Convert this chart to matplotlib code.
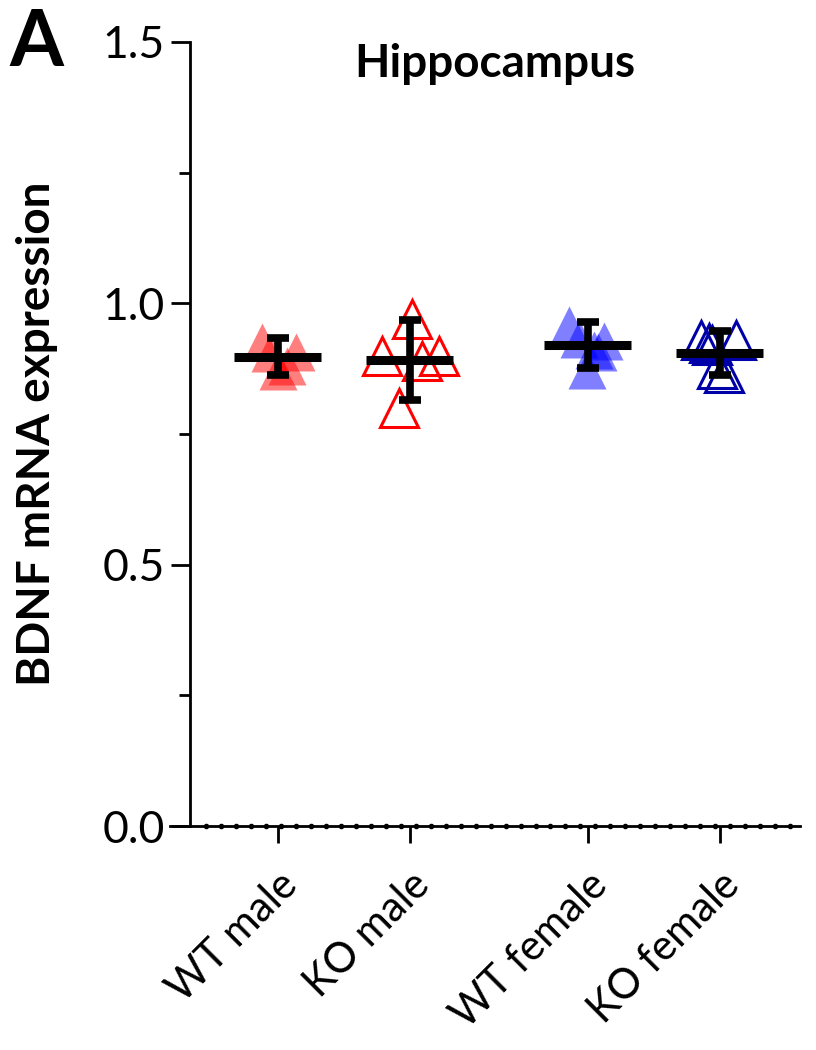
import numpy as np
import matplotlib.pyplot as plt

plt.rcParams['font.family'] = ['Lato', 'DejaVu Sans']

groups = ['WT male', 'KO male', 'WT female', 'KO female']
xpos = [1.0, 2.0, 3.35, 4.35]

# individual points (x offset, value)
pts_x = [
    [-0.12, 0.14, -0.06, 0.0, 0.07],
    [0.02, -0.21, 0.09, 0.22, -0.08],
    [-0.14, 0.12, 0.08, -0.07, -0.01, 0.05],
    [-0.14, -0.06, 0.12, 0.03, -0.02, -0.08],
]
pts_y = [
    [0.927, 0.907, 0.905, 0.870, 0.880],
    [0.971, 0.900, 0.890, 0.900, 0.800],
    [0.958, 0.928, 0.907, 0.932, 0.872, 0.911],
    [0.930, 0.920, 0.930, 0.867, 0.874, 0.924],
]
means = [0.898, 0.892, 0.921, 0.905]
errs = [0.035, 0.076, 0.044, 0.043]

face = [(1, 0, 0, 0.5), 'none', (0, 0, 1, 0.5), 'none']
edge = ['none', '#FF0000', 'none', '#0000A8']

fig = plt.figure(figsize=(8.16, 10.5), dpi=100)
ax = fig.add_axes([0.2328, 0.2133, 0.7472, 0.7467])

for i in range(4):
    xs = [xpos[i] + dx for dx in pts_x[i]]
    ax.plot(xs, pts_y[i], linestyle='none', marker='^', markersize=28,
            markerfacecolor=face[i], markeredgecolor=edge[i],
            markeredgewidth=2.2, zorder=2)
    ax.errorbar(xpos[i], means[i], yerr=errs[i], fmt='none', ecolor='black',
                elinewidth=5.5, capsize=8, capthick=5.5, zorder=4)
    ax.plot([xpos[i] - 0.33, xpos[i] + 0.33], [means[i], means[i]],
            color='black', linewidth=6.5, solid_capstyle='butt', zorder=4)

ax.set_xlim(0.333, 4.956)
ax.set_ylim(0, 1.5)

ax.spines['top'].set_visible(False)
ax.spines['right'].set_visible(False)
ax.spines['left'].set_linewidth(2)
ax.spines['bottom'].set_linewidth(2)
ax.spines['bottom'].set_bounds(0.18, 4.956)

# dotted look along the x axis
dots = np.arange(0.333 + 0.12, 4.956, 15 / 132)
ax.plot(dots, np.zeros_like(dots), linestyle='none', marker='o', markersize=3,
        color='black', clip_on=False, zorder=5)

ax.set_yticks([0, 0.5, 1.0, 1.5])
ax.set_yticklabels(['0.0', '0.5', '1.0', '1.5'])
ax.set_yticks([0.25, 0.75, 1.25], minor=True)
ax.tick_params(axis='y', which='major', length=14, width=2, labelsize=32, pad=4)
ax.tick_params(axis='y', which='minor', length=8, width=2)

ax.set_xticks(xpos)
ax.set_xticklabels(groups, rotation=45, ha='right', rotation_mode='anchor')
ax.tick_params(axis='x', length=12, width=2, labelsize=30, pad=16)

ax.set_ylabel('BDNF mRNA expression', fontsize=33, fontweight='bold')
ax.yaxis.set_label_coords(-0.216, 0.5)
ax.text(0.5, 0.972, 'Hippocampus', transform=ax.transAxes, ha='center', va='center',
        fontsize=33, fontweight='bold')
fig.text(0.012, 0.958, 'A', fontsize=56, fontweight='bold', ha='left', va='center')

fig.savefig('out.png', dpi=100)
